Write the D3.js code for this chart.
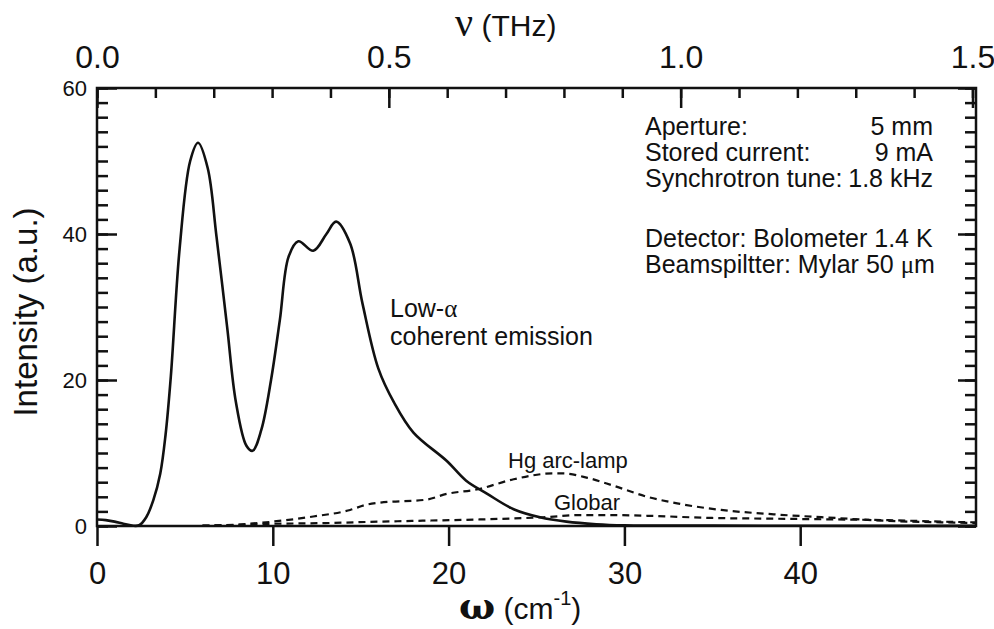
<!DOCTYPE html>
<html>
<head>
<meta charset="utf-8">
<script src="https://cdn.jsdelivr.net/npm/d3@7"></script>
<style>
  body { margin: 0; background: #fff; }
  svg { display: block; }
  text { font-family: "Liberation Sans", Arial, sans-serif; fill: #111; }
  .greek { font-family: "Liberation Serif", "DejaVu Serif", serif; }
  .greekbig { font-family: "DejaVu Serif", "Liberation Serif", serif; }
</style>
</head>
<body>
<div id="chart"></div>
<script>
// low-alpha coherent emission (solid)
const lowAlphaW = [0, 0.5, 1, 1.5, 2, 2.4, 2.8, 3.2, 3.6, 3.9, 4.2, 4.7, 5.3, 5.75, 6.3, 6.8, 7.4, 7.9, 8.5, 8.85, 9.35, 9.9, 10.4, 10.9, 11.45, 12.3, 13.05, 13.6, 14.4, 15.1, 16.0, 16.9, 18.0, 19.9, 21.0, 22.2, 23.7, 25.2, 26.7, 28.4, 30, 35, 40, 45, 50];
const lowAlphaI = [0.9, 0.8, 0.6, 0.3, 0.05, 0.1, 1.2, 3.5, 7.2, 12.5, 20.5, 38.0, 50.0, 52.5, 49.0, 39.6, 27.3, 17.0, 11.0, 10.3, 13.2, 20.0, 28.2, 36.9, 39.0, 37.7, 40.0, 41.7, 38.7, 30.5, 21.6, 16.9, 12.8, 8.9, 6.2, 4.4, 2.3, 1.2, 0.6, 0.25, 0.1, 0.05, 0.03, 0.02, 0.02];

// Hg arc-lamp (dashed)
const hgW = [6, 8, 10, 12.3, 14.4, 15.3, 16.1, 18.7, 19.9, 21.6, 23.7, 25.9, 26.5, 27.9, 29.4, 31.3, 33, 35.5, 38.5, 42, 45, 48, 50];
const hgI = [0.05, 0.2, 0.6, 1.3, 2.2, 2.9, 3.2, 3.6, 4.4, 5.0, 6.4, 7.2, 7.2, 6.6, 5.5, 4.0, 3.1, 2.2, 1.6, 1.1, 0.7, 0.5, 0.4];

// Globar (dashed)
const globarW = [6, 8, 10, 13, 16.1, 19, 21.8, 25.4, 27.5, 29, 31.3, 35, 38.5, 42, 45, 48, 50];
const globarI = [0.05, 0.15, 0.3, 0.4, 0.6, 0.75, 0.9, 1.2, 1.5, 1.5, 1.4, 1.1, 1.0, 0.9, 0.8, 0.6, 0.5];

const omegaTicks = [0, 10, 20, 30, 40];
const nuTicks = [0.0, 0.5, 1.0, 1.5];
const intensityTicks = [0, 20, 40, 60];
const cmPerTHz = 33.2;

const infoLabels = ["Aperture:", "Stored current:", "Synchrotron tune:", "", "Detector: Bolometer 1.4 K", "Beamspiltter: Mylar 50 "];
const infoValues = ["5 mm", "9 mA", "1.8 kHz", "", "", ""];

const W = 994, H = 629;
const margin = {top: 88, right: 18, bottom: 103, left: 97};
const width = W - margin.left - margin.right,
      height = H - margin.top - margin.bottom;

const svg = d3.select("#chart").append("svg")
    .attr("width", W)
    .attr("height", H);

const g = svg.append("g")
    .attr("transform", "translate(" + margin.left + "," + margin.top + ")");

const x = d3.scaleLinear().domain([0, 50]).range([0, width]);
const y = d3.scaleLinear().domain([0, 60]).range([height, 0]);
const xTop = d3.scaleLinear().domain([0, 50 / cmPerTHz]).range([0, width]);

function styleAxis(sel) {
  sel.select(".domain").remove();
  sel.selectAll(".tick line").attr("stroke", "#111").attr("stroke-width", 2.5);
}

// bottom axis: major ticks outside
const bottom = g.append("g")
    .attr("transform", "translate(0," + height + ")")
    .call(d3.axisBottom(x).tickValues(omegaTicks).tickSize(20).tickPadding(10).tickFormat(d3.format("d")));
styleAxis(bottom);
bottom.selectAll("text").style("font-size", "31px").attr("dy", "0.9em");

// top axis: ticks inside, minor every 0.1
const topMinor = g.append("g")
    .call(d3.axisTop(xTop).tickValues(d3.range(0, 1.51, 0.1)).tickSize(-10).tickFormat(""));
styleAxis(topMinor);
const topMajor = g.append("g")
    .call(d3.axisTop(xTop).tickValues(nuTicks).tickSize(-20).tickPadding(40).tickFormat(d3.format(".1f")));
styleAxis(topMajor);
topMajor.selectAll("text").style("font-size", "32px").attr("y", -20).attr("dy", 0);

// left axis
const leftMinor = g.append("g")
    .call(d3.axisLeft(y).tickValues(d3.range(0, 61, 2)).tickSize(-11).tickFormat(""));
styleAxis(leftMinor);
const leftMajor = g.append("g")
    .call(d3.axisLeft(y).tickValues(intensityTicks).tickSize(-20).tickPadding(10).tickFormat(d3.format("d")));
styleAxis(leftMajor);
leftMajor.selectAll("text").style("font-size", "22px").attr("x", -10);

// right axis
const rightMinor = g.append("g")
    .attr("transform", "translate(" + width + ",0)")
    .call(d3.axisRight(y).tickValues(d3.range(0, 61, 2)).tickSize(-11).tickFormat(""));
styleAxis(rightMinor);
const rightMajor = g.append("g")
    .attr("transform", "translate(" + width + ",0)")
    .call(d3.axisRight(y).tickValues(intensityTicks).tickSize(-18).tickFormat(""));
styleAxis(rightMajor);

// frame
g.append("rect")
    .attr("width", width).attr("height", height)
    .attr("fill", "none").attr("stroke", "#111").attr("stroke-width", 2.5);

// curves
const line = d3.line()
    .x(d => x(d[0]))
    .y(d => y(d[1]))
    .curve(d3.curveMonotoneX);

const smooth = d3.line()
    .x(d => x(d[0]))
    .y(d => y(Math.max(0, d[1])))
    .curve(d3.curveCatmullRom.alpha(0.5));

g.append("path")
    .datum(d3.zip(hgW, hgI))
    .attr("fill", "none").attr("stroke", "#111").attr("stroke-width", 2.2)
    .attr("stroke-dasharray", "7,5")
    .attr("d", line);

g.append("path")
    .datum(d3.zip(globarW, globarI))
    .attr("fill", "none").attr("stroke", "#111").attr("stroke-width", 2.2)
    .attr("stroke-dasharray", "7,5")
    .attr("d", line);

g.append("path")
    .datum(d3.zip(lowAlphaW, lowAlphaI))
    .attr("fill", "none").attr("stroke", "#111").attr("stroke-width", 2.6)
    .attr("stroke-linejoin", "round")
    .attr("d", smooth);

// annotations
const la = svg.append("text").attr("x", 390).attr("y", 317).style("font-size", "25px");
la.append("tspan").text("Low-");
la.append("tspan").attr("class", "greek").text("α");
svg.append("text").attr("x", 390).attr("y", 345).style("font-size", "25px").text("coherent emission");
svg.append("text").attr("x", 508).attr("y", 468).style("font-size", "22px").text("Hg arc-lamp");
svg.append("text").attr("x", 554).attr("y", 510).style("font-size", "22px").text("Globar");

// info block
const infoY = [135, 161, 187, 0, 247, 273];
infoLabels.forEach((t, i) => {
  if (!t) return;
  const tx = svg.append("text").attr("x", 645).attr("y", infoY[i]).style("font-size", "25px").text(t);
  if (i === 5) {
    tx.append("tspan").attr("class", "greek").text("μ");
    tx.append("tspan").text("m");
  }
});
infoValues.forEach((t, i) => {
  if (!t) return;
  svg.append("text").attr("x", 933).attr("y", infoY[i]).attr("text-anchor", "end").style("font-size", "25px").text(t);
});

// axis titles
svg.append("text")
    .attr("transform", "translate(37,312) rotate(-90)")
    .attr("text-anchor", "middle")
    .style("font-size", "33px")
    .text("Intensity (a.u.)");

const xt = svg.append("text").attr("x", 459).attr("y", 619).style("font-size", "30px");
xt.append("tspan").attr("class", "greekbig").style("font-size", "38px").style("font-weight", "bold").text("ω");
xt.append("tspan").text(" (cm");
xt.append("tspan").attr("dy", -14).style("font-size", "20px").text("-1");
xt.append("tspan").attr("dy", 14).text(")");

const nt = svg.append("text").attr("x", 455).attr("y", 36).style("font-size", "30px");
nt.append("tspan").attr("class", "greek").style("font-size", "40px").text("ν");
nt.append("tspan").text(" (THz)");
</script>
</body>
</html>
